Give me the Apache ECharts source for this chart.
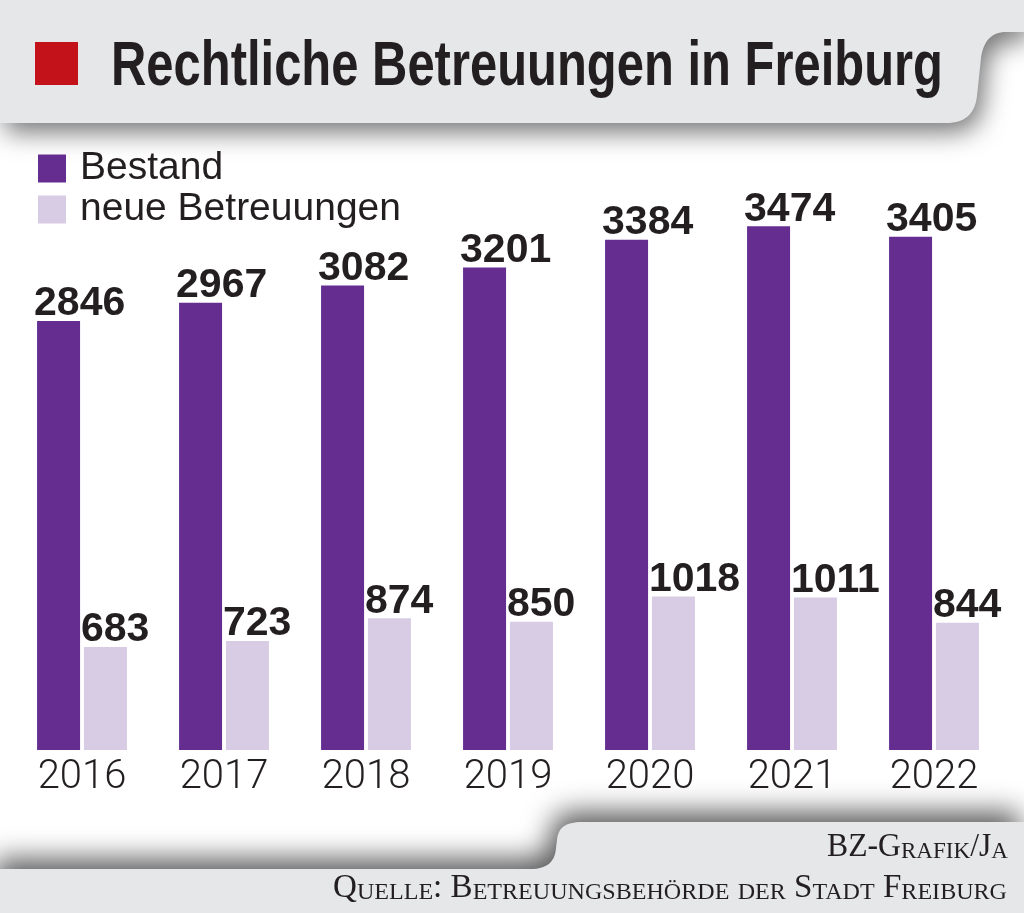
<!DOCTYPE html>
<html>
<head>
<meta charset="utf-8">
<script src="https://cdn.jsdelivr.net/npm/echarts@6/dist/echarts.min.js"></script>
<style>
html,body{margin:0;padding:0;background:#ffffff;}
#chart{width:1024px;height:913px;}
</style>
</head>
<body>
<div id="chart"></div>
<script>
// ---- data ----
const years = ['2016', '2017', '2018', '2019', '2020', '2021', '2022'];
const bestand = [2846, 2967, 3082, 3201, 3384, 3474, 3405];
const neueBetreuungen = [683, 723, 874, 850, 1018, 1011, 844];
const seriesNames = ['Bestand', 'neue Betreuungen'];
const titleText = 'Rechtliche Betreuungen in Freiburg';
const creditText = 'BZ-Grafik/Ja';
const sourceText = 'Quelle: Betreuungsbehörde der Stadt Freiburg';

// ---- helpers ----
const ctx = document.createElement('canvas').getContext('2d');
function textWidth(str, font) { ctx.font = font; return ctx.measureText(str).width; }

// build polygon points from a list of segments: ['M',x,y] ['L',x,y] ['C',x1,y1,x2,y2,x,y]
function shapePoints(segs) {
  const pts = [];
  let cx = 0, cy = 0;
  for (const s of segs) {
    if (s[0] === 'M' || s[0] === 'L') { cx = s[1]; cy = s[2]; pts.push([cx, cy]); }
    else if (s[0] === 'C') {
      const [, x1, y1, x2, y2, x, y] = s;
      for (let i = 1; i <= 16; i++) {
        const t = i / 16, u = 1 - t;
        pts.push([
          u * u * u * cx + 3 * u * u * t * x1 + 3 * u * t * t * x2 + t * t * t * x,
          u * u * u * cy + 3 * u * u * t * y1 + 3 * u * t * t * y2 + t * t * t * y
        ]);
      }
      cx = x; cy = y;
    }
  }
  return pts;
}

const BIG = 33, SMALL = 24, SERIF = '"Liberation Serif", "DejaVu Serif", serif';
function smallCaps(str) {
  const runs = [];
  for (const ch of str) {
    const isLower = ch !== ch.toUpperCase();
    const kind = isLower ? 's' : 'b';
    const c = ch.toUpperCase();
    if (runs.length && runs[runs.length - 1].k === kind) runs[runs.length - 1].t += c;
    else runs.push({ k: kind, t: c });
  }
  let w = 0;
  for (const r of runs) w += textWidth(r.t, (r.k === 'b' ? BIG : SMALL) + 'px ' + SERIF);
  return { text: runs.map(r => '{' + r.k + '|' + r.t + '}').join(''), width: w };
}
const richSC = {
  b: { fontFamily: SERIF, fontSize: BIG, color: '#231f20', lineHeight: 34, verticalAlign: 'bottom' },
  s: { fontFamily: SERIF, fontSize: SMALL, color: '#231f20', lineHeight: 34, verticalAlign: 'bottom' }
};

const TITLE_FONT = 'bold 63px "Liberation Sans Narrow", "Liberation Sans", sans-serif';
const titleScale = 832 / textWidth(titleText, TITLE_FONT);
const credit = smallCaps(creditText);
const source = smallCaps(sourceText);

const GRAY = '#e6e7e9';
const DARK = '#231f20';

const topShape = shapePoints([
  ['M', 0, 0], ['L', 1024, 0], ['L', 1024, 32], ['L', 1006, 32],
  ['C', 991, 32, 983, 42, 981, 58], ['L', 977, 96],
  ['C', 975, 113, 966, 123, 946, 123], ['L', 0, 123]
]);
const bottomShape = shapePoints([
  ['M', 0, 913], ['L', 0, 869], ['L', 530, 869],
  ['C', 548, 869, 555, 861, 556, 848], ['L', 557, 840],
  ['C', 558, 828, 565, 822, 582, 822], ['L', 1024, 822], ['L', 1024, 913]
]);

const labelStyle = {
  show: true, position: [-3, -17], align: 'left', verticalAlign: 'middle',
  fontFamily: '"Liberation Sans", Arial, sans-serif', fontWeight: 'bold', fontSize: 41, color: DARK
};

const chart = echarts.init(document.getElementById('chart'), null, { renderer: 'canvas' });
chart.setOption({
  animation: false,
  backgroundColor: '#ffffff',
  grid: { left: 11, right: 19, top: 147, bottom: 163, containLabel: false },
  legend: {
    orient: 'vertical', left: 38, top: 149, padding: 0,
    itemWidth: 28, itemHeight: 28, itemGap: 2, icon: 'rect',
    selectedMode: false,
    data: seriesNames,
    textStyle: { fontFamily: '"Liberation Sans", Arial, sans-serif', fontSize: 39, color: DARK, lineHeight: 28, padding: [0, 0, 0, 9] }
  },
  xAxis: {
    type: 'category', data: years,
    axisLine: { show: false }, axisTick: { show: false },
    axisLabel: { fontFamily: 'Roboto', fontWeight: 300, fontSize: 40, color: DARK, margin: 8 }
  },
  yAxis: { type: 'value', min: 0, max: 4000, show: false, splitLine: { show: false } },
  series: [
    {
      type: 'bar', name: seriesNames[0], data: bestand,
      barWidth: 43, barGap: '9%',
      itemStyle: { color: '#652d90' },
      label: labelStyle
    },
    {
      type: 'bar', name: seriesNames[1], data: neueBetreuungen,
      barWidth: 43, barGap: '9%',
      itemStyle: { color: '#d8cbe4' },
      label: labelStyle
    }
  ],
  graphic: [
    {
      type: 'polygon', z: -10,
      shape: { points: topShape },
      style: { fill: GRAY, shadowBlur: 26, shadowColor: 'rgba(0,0,0,0.55)', shadowOffsetX: 5, shadowOffsetY: 9 }
    },
    {
      type: 'polygon', z: -10,
      shape: { points: bottomShape },
      style: { fill: GRAY, shadowBlur: 28, shadowColor: 'rgba(0,0,0,0.65)', shadowOffsetX: -5, shadowOffsetY: -10 }
    },
    { type: 'rect', shape: { x: 35, y: 42, width: 43, height: 43 }, style: { fill: '#c4121a' } },
    {
      type: 'text', x: 111, y: 68, scaleX: titleScale,
      style: { text: titleText, font: TITLE_FONT, fill: DARK, align: 'left', verticalAlign: 'middle' }
    },
    {
      type: 'text', x: 1008, y: 864, scaleX: 181 / credit.width,
      style: { text: credit.text, rich: richSC, fill: DARK, align: 'right', verticalAlign: 'bottom' }
    },
    {
      type: 'text', x: 1007, y: 905, scaleX: 674 / source.width,
      style: { text: source.text, rich: richSC, fill: DARK, align: 'right', verticalAlign: 'bottom' }
    }
  ]
});
</script>
</body>
</html>
